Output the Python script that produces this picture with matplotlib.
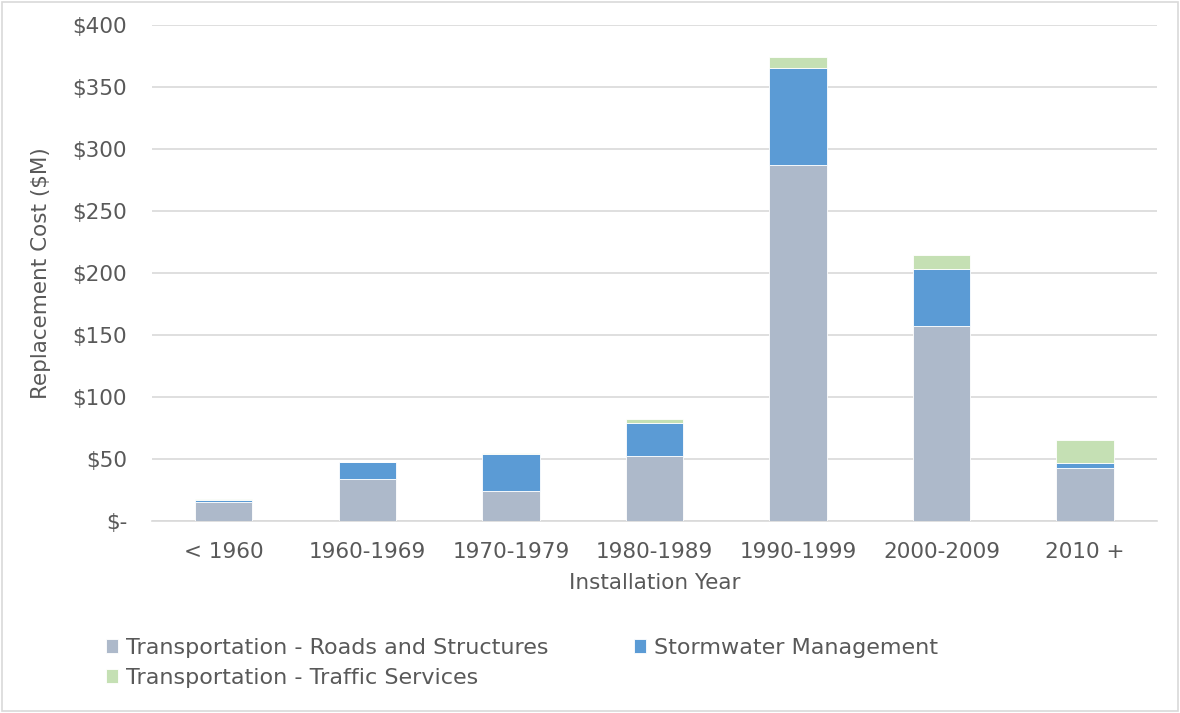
import matplotlib
matplotlib.use("Agg")
import matplotlib.pyplot as plt
from matplotlib.patches import Rectangle
import numpy as np

categories = ["< 1960", "1960-1969", "1970-1979", "1980-1989", "1990-1999", "2000-2009", "2010 +"]
roads = [15.5, 34.0, 24.2, 52.7, 287.0, 157.5, 43.0]
stormwater = [1.2, 13.3, 29.6, 26.6, 78.0, 45.5, 3.5]
traffic = [0.8, 0.3, 1.0, 3.2, 9.0, 11.3, 18.8]
series_names = ["Transportation - Roads and Structures", "Stormwater Management",
                "Transportation - Traffic Services"]
yticks = [0, 50, 100, 150, 200, 250, 300, 350, 400]
ytick_labels = ["$-", "$50", "$100", "$150", "$200", "$250", "$300", "$350", "$400"]

colors = ["#adb9ca", "#5b9bd5", "#c5e0b4"]
txt = "#595959"
plt.rcParams['font.family'] = ['DejaVu Sans']
fs = 15.5
lfs = 16

fig = plt.figure(figsize=(11.8, 7.13), dpi=100)
ax = fig.add_axes([152/1180, 1 - 521/713, (1157-152)/1180, (521-25)/713])

x = np.arange(len(categories))
w = 0.4
b1 = ax.bar(x, roads, w, color=colors[0], edgecolor="white", linewidth=0.6, label=series_names[0], zorder=3)
bottom2 = np.array(roads)
b2 = ax.bar(x, stormwater, w, bottom=bottom2, color=colors[1], edgecolor="white", linewidth=0.6, label=series_names[1], zorder=3)
bottom3 = bottom2 + np.array(stormwater)
b3 = ax.bar(x, traffic, w, bottom=bottom3, color=colors[2], edgecolor="white", linewidth=0.6, label=series_names[2], zorder=3)

ax.set_xlim(-0.5, len(categories) - 0.5)
ax.set_ylim(0, 400)
ax.set_yticks(yticks)
ax.set_yticklabels(ytick_labels)
ax.set_xticks(x)
ax.set_xticklabels(categories)
ax.yaxis.grid(True, color="#d9d9d9", linewidth=1.2, zorder=0)
ax.set_axisbelow(True)
for s in ["top", "right", "left"]:
    ax.spines[s].set_visible(False)
ax.spines["bottom"].set_color("#d9d9d9")
ax.spines["bottom"].set_linewidth(1.2)
ax.tick_params(axis="both", length=0, colors=txt, labelsize=fs)
ax.tick_params(axis="y", pad=18)
ax.tick_params(axis="x", pad=15)

ax.set_xlabel("Installation Year", color=txt, fontsize=fs, labelpad=8)
ax.set_ylabel("Replacement Cost ($M)", color=txt, fontsize=fs, labelpad=15)

leg = fig.legend(handles=[b1, b3, b2],
                 labels=[series_names[0], series_names[2], series_names[1]],
                 loc="upper left",
                 bbox_to_anchor=(86/1180, 1 - 618/713), ncol=2, frameon=False,
                 fontsize=lfs, handlelength=0.55, handleheight=0.55, handletextpad=0.35,
                 columnspacing=3.85, labelspacing=0.45)
for t in leg.get_texts():
    t.set_color(txt)

fig.patches.append(Rectangle((2/1180, 2/713), 1 - 4/1180, 1 - 4/713, transform=fig.transFigure,
                             fill=False, edgecolor="#d9d9d9", linewidth=1.2))

fig.savefig("out.png", dpi=100)
